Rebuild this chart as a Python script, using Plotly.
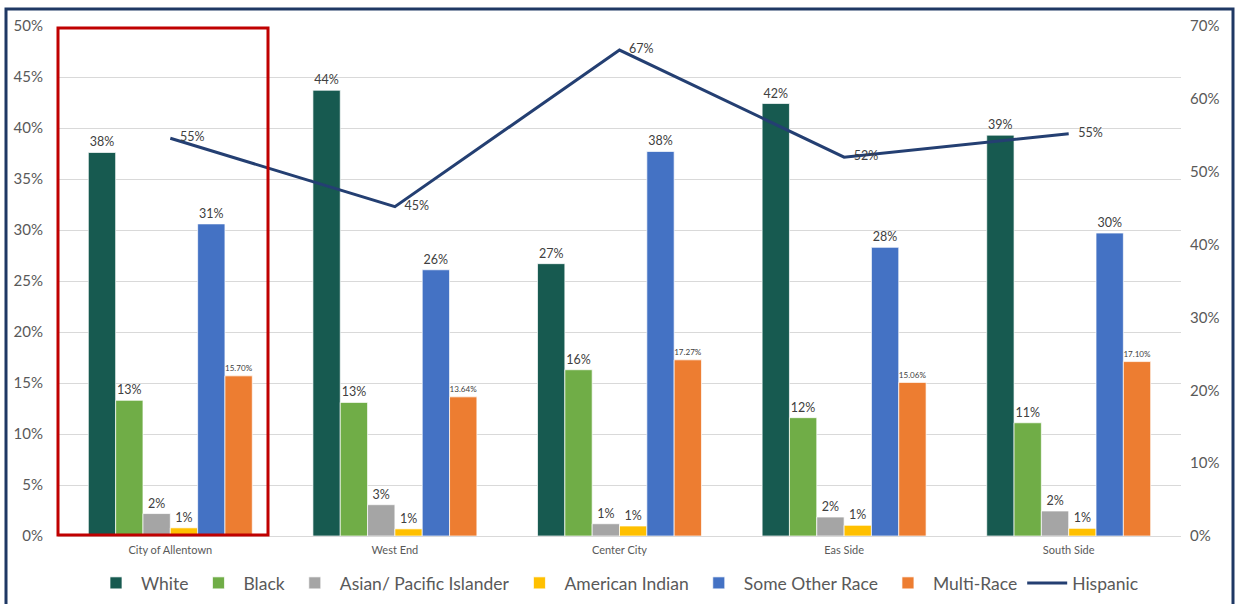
import plotly.graph_objects as go

areas = ["City of Allentown", "West End", "Center City", "Eas Side", "South Side"]

white = [37.6, 43.7, 26.7, 42.4, 39.3]
black = [13.3, 13.1, 16.3, 11.6, 11.1]
asian = [2.2, 3.07, 1.2, 1.86, 2.45]
american_indian = [0.8, 0.7, 0.98, 1.05, 0.75]
some_other = [30.6, 26.1, 37.7, 28.3, 29.7]
multi_race = [15.70, 13.64, 17.27, 15.06, 17.10]
hispanic = [54.6, 45.2, 66.7, 52.0, 55.2]

FONT = "Lato, sans-serif"
LABEL_GREY = "#404040"
TICK_GREY = "#595959"

bar_series = [
    ("White", white, "#175A50"),
    ("Black", black, "#70AD47"),
    ("Asian/ Pacific Islander", asian, "#A5A5A5"),
    ("American Indian", american_indian, "#FFC000"),
    ("Some Other Race", some_other, "#4472C4"),
    ("Multi-Race", multi_race, "#ED7D31"),
]

fig = go.Figure()
for name, vals, color in bar_series:
    if name == "Multi-Race":
        text = [f"{v:.2f}%" for v in vals]
        tsize = 11
    else:
        text = [f"{v:.0f}%" for v in vals]
        tsize = 12.5
    fig.add_trace(
        go.Bar(
            x=areas,
            y=vals,
            name=name,
            marker=dict(color=color, line=dict(color="rgba(255,255,255,0.7)", width=1)),
            text=text,
            textposition="outside",
            textfont=dict(size=tsize, color=LABEL_GREY, family=FONT),
            cliponaxis=False,
        )
    )

# nbsp padding keeps the labels a little off the line's vertices
fig.add_trace(
    go.Scatter(
        x=areas,
        y=hispanic,
        name="Hispanic",
        yaxis="y2",
        mode="lines+text",
        line=dict(color="#243F72", width=3),
        text=[f"\u00a0\u00a0\u00a0{v:.0f}%" for v in hispanic],
        textposition="middle right",
        textfont=dict(size=12.5, color=LABEL_GREY, family=FONT),
        cliponaxis=False,
    )
)

# plot area sits at x 58..1181, y 26..536; legend is placed in container
# coordinates so it doesn't grow the bottom margin
fig.update_layout(
    width=1235,
    height=604,
    margin=dict(l=58, r=54, t=26, b=68, autoexpand=False),
    barmode="group",
    bargap=0.27,
    bargroupgap=0,
    plot_bgcolor="white",
    paper_bgcolor="white",
    font=dict(family=FONT, color=TICK_GREY),
    showlegend=True,
    legend=dict(
        orientation="h",
        xref="container",
        yref="container",
        x=0.5,
        xanchor="center",
        y=1 - 583 / 604,
        yanchor="middle",
        font=dict(size=17.5, color=TICK_GREY, family=FONT),
        itemwidth=40,
        tracegroupgap=0,
    ),
    xaxis=dict(
        showgrid=False,
        showline=True,
        linecolor="#D9D9D9",
        linewidth=1,
        tickfont=dict(size=11, color=TICK_GREY),
        ticks="",
        ticklabelstandoff=4,
        automargin=False,
    ),
    yaxis=dict(
        range=[0, 50],
        dtick=5,
        ticksuffix="%",
        showgrid=True,
        gridcolor="#D9D9D9",
        zeroline=False,
        tickfont=dict(size=15, color=TICK_GREY),
        ticklabelstandoff=14,
        automargin=False,
    ),
    yaxis2=dict(
        range=[0, 70],
        dtick=10,
        ticksuffix="%",
        overlaying="y",
        side="right",
        showgrid=False,
        zeroline=False,
        tickfont=dict(size=15, color=TICK_GREY),
        ticklabelstandoff=8,
        automargin=False,
    ),
    shapes=[
        # outer chart border
        dict(
            type="rect",
            xref="paper",
            yref="paper",
            x0=(6 - 58) / 1123,
            x1=(1233 - 58) / 1123,
            y0=(536 - 620) / 510,
            y1=(536 - 9) / 510,
            line=dict(color="#1F3864", width=3),
            layer="above",
        ),
        # highlight box around City of Allentown
        dict(
            type="rect",
            xref="paper",
            yref="paper",
            x0=0.0,
            x1=(268 - 58) / 1123,
            y0=(536 - 535) / 510,
            y1=(536 - 28) / 510,
            line=dict(color="#C00000", width=3),
            layer="above",
        ),
    ],
)

fig.write_html(
    "out.html",
    config={"displayModeBar": False},
    post_script="document.body.style.margin='0';",
)
